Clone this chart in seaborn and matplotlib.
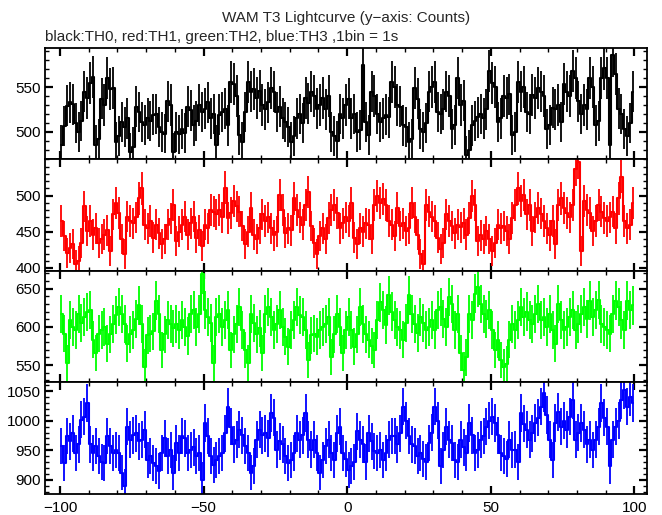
import numpy as np
import pandas as pd
import matplotlib
matplotlib.use("Agg")
import matplotlib.pyplot as plt
from matplotlib.ticker import MultipleLocator
import seaborn as sns

# ---------------- data (counts per 1 s bin, t = -100 ... 99) ----------------
time_start = -100
bin_width = 1

th0 = [
    485, 506, 529, 533, 531, 510, 500, 512, 545, 538,
    555, 561, 485, 492, 537, 530, 560, 548, 549, 489,
    495, 511, 505, 515, 477, 483, 528, 522, 511, 508,
    515, 512, 519, 520, 505, 500, 498, 534, 530, 477,
    500, 497, 503, 499, 528, 524, 507, 512, 530, 522,
    526, 533, 515, 520, 485, 519, 522, 526, 507, 556,
    553, 540, 496, 489, 522, 556, 545, 548, 538, 546,
    530, 525, 533, 549, 545, 522, 528, 515, 511, 505,
    489, 495, 515, 520, 510, 538, 532, 545, 540, 526,
    530, 538, 525, 540, 500, 495, 490, 520, 515, 530,
    537, 515, 520, 500, 502, 575, 511, 496, 545, 540,
    520, 511, 515, 519, 516, 556, 550, 530, 528, 507,
    505, 489, 492, 549, 537, 503, 500, 510, 545, 550,
    556, 522, 520, 525, 545, 540, 503, 508, 560, 530,
    535, 474, 480, 507, 512, 516, 520, 515, 525, 568,
    555, 550, 511, 515, 540, 538, 542, 496, 500, 556,
    545, 550, 522, 520, 541, 538, 549, 545, 540, 503,
    508, 527, 525, 530, 511, 553, 545, 540, 568, 560,
    534, 520, 530, 525, 560, 550, 507, 512, 560, 571,
    560, 485, 586, 565, 526, 520, 503, 495, 510, 545,
]

th1 = [
    465, 444, 421, 428, 433, 405, 410, 435, 485, 451,
    465, 446, 455, 435, 440, 446, 452, 424, 474, 490,
    476, 440, 419, 471, 465, 462, 470, 496, 510, 460,
    455, 465, 442, 460, 448, 433, 440, 460, 468, 487,
    437, 450, 460, 471, 446, 462, 471, 442, 452, 430,
    460, 455, 480, 478, 474, 480, 470, 511, 469, 476,
    492, 485, 478, 458, 433, 450, 483, 446, 440, 455,
    474, 465, 470, 455, 445, 450, 501, 480, 449, 455,
    452, 496, 480, 470, 460, 487, 505, 458, 435, 419,
    444, 455, 440, 469, 480, 487, 476, 455, 462, 470,
    465, 490, 442, 433, 455, 450, 462, 460, 440, 487,
    499, 490, 495, 487, 465, 460, 444, 483, 458, 462,
    451, 455, 490, 470, 446, 419, 405, 487, 478, 471,
    465, 442, 426, 435, 474, 465, 458, 448, 460, 456,
    462, 446, 469, 499, 487, 437, 445, 440, 451, 440,
    424, 435, 460, 455, 458, 451, 440, 469, 487, 510,
    492, 501, 474, 487, 451, 470, 483, 475, 465, 455,
    445, 465, 433, 487, 496, 483, 476, 470, 487, 537,
    546, 424, 492, 480, 476, 451, 465, 487, 478, 469,
    465, 470, 478, 455, 496, 526, 465, 455, 460, 490,
]

th2 = [
    617, 591, 553, 609, 600, 596, 617, 605, 613, 619,
    622, 583, 566, 591, 596, 600, 578, 590, 604, 615,
    626, 617, 604, 578, 590, 596, 610, 628, 604, 548,
    589, 591, 594, 634, 617, 570, 590, 609, 604, 598,
    604, 596, 609, 600, 588, 617, 622, 600, 617, 669,
    622, 613, 605, 553, 613, 617, 600, 609, 622, 570,
    590, 604, 626, 596, 570, 553, 617, 605, 590, 598,
    566, 617, 626, 613, 596, 604, 622, 600, 587, 574,
    596, 609, 626, 615, 613, 596, 557, 589, 591, 587,
    596, 600, 604, 613, 561, 590, 617, 600, 566, 596,
    613, 596, 574, 590, 626, 604, 590, 583, 575, 570,
    609, 632, 622, 602, 641, 620, 609, 600, 596, 583,
    605, 641, 617, 604, 592, 613, 605, 596, 600, 609,
    596, 622, 626, 610, 600, 639, 630, 596, 617, 566,
    544, 560, 617, 609, 643, 652, 630, 617, 610, 622,
    596, 570, 583, 557, 548, 552, 583, 604, 596, 609,
    626, 613, 620, 609, 604, 617, 630, 609, 613, 600,
    617, 596, 578, 630, 609, 596, 600, 613, 622, 596,
    604, 617, 626, 610, 634, 613, 622, 635, 604, 600,
    596, 591, 617, 634, 626, 609, 596, 634, 622, 628,
]

th3 = [
    957, 929, 974, 965, 979, 945, 960, 1002, 1007, 1030,
    960, 945, 957, 940, 930, 929, 974, 957, 945, 950,
    945, 912, 889, 990, 968, 975, 979, 965, 968, 985,
    934, 940, 928, 923, 915, 945, 970, 940, 950, 912,
    962, 945, 974, 970, 945, 950, 955, 940, 945, 900,
    996, 974, 940, 925, 934, 940, 945, 979, 1024, 990,
    960, 968, 985, 975, 957, 945, 912, 923, 968, 985,
    975, 979, 970, 1013, 1005, 951, 965, 960, 940, 929,
    934, 945, 979, 968, 975, 1013, 968, 951, 968, 945,
    912, 934, 957, 968, 945, 934, 979, 990, 945, 935,
    917, 923, 930, 982, 968, 960, 930, 979, 965, 949,
    945, 950, 934, 945, 968, 974, 974, 960, 979, 1024,
    1000, 974, 960, 957, 940, 945, 935, 930, 962, 980,
    1024, 1000, 923, 950, 990, 968, 962, 934, 930, 968,
    955, 945, 996, 975, 945, 950, 968, 974, 990, 1000,
    1007, 996, 975, 945, 940, 935, 968, 950, 951, 930,
    1013, 995, 985, 968, 979, 996, 1005, 1024, 1047, 1010,
    968, 934, 996, 1015, 990, 1000, 985, 1007, 1035, 968,
    980, 996, 985, 960, 968, 950, 968, 990, 1030, 1005,
    990, 923, 968, 990, 1000, 1035, 1052, 1024, 1041, 1030,
]

channels = ["TH0", "TH1", "TH2", "TH3"]
colors = ["#000000", "#ff0000", "#00ff00", "#0000ff"]
ylims = [(469, 594), (396, 550), (527.5, 673), (876, 1065)]
yticks = [[500, 550], [400, 450, 500], [550, 600, 650], [900, 950, 1000, 1050]]
xticks = [-100, -50, 0, 50, 100]
title = "WAM T3 Lightcurve (y\u2212axis: Counts)"
subtitle = "black:TH0, red:TH1, green:TH2, blue:TH3 ,1bin = 1s"

series = [th0, th1, th2, th3]
n = len(th0)
t = time_start + bin_width * (np.arange(n) + 0.5)
frames = []
for ch, vals in zip(channels, series):
    frames.append(pd.DataFrame({"time": t, "counts": np.asarray(vals, float),
                                "channel": ch}))
df = pd.concat(frames, ignore_index=True)
df["err"] = np.sqrt(df["counts"])

# ---------------- figure ----------------
sns.set_style("ticks")
plt.rcParams["font.family"] = ["Liberation Sans", "DejaVu Sans"]
plt.rcParams["axes.unicode_minus"] = True

fig, axes = plt.subplots(4, 1, figsize=(6.62, 5.15), dpi=100, sharex=True)
fig.subplots_adjust(left=0.068, right=0.977, top=0.907, bottom=0.041, hspace=0)

for ax, ch, col, yl, yt in zip(axes, channels, colors, ylims, yticks):
    d = df[df["channel"] == ch]
    ax.errorbar(d["time"], d["counts"], yerr=d["err"], fmt="none",
                ecolor=col, elinewidth=1.3, capsize=0, zorder=2)
    sns.lineplot(data=d, x="time", y="counts", color=col, linewidth=1.5,
                 drawstyle="steps-mid", ax=ax, legend=False, zorder=3,
                 estimator=None)
    ax.set_xlim(-105.2, 104.3)
    ax.set_ylim(*yl)
    ax.set_yticks(yt)
    ax.yaxis.set_minor_locator(MultipleLocator(10))
    ax.xaxis.set_minor_locator(MultipleLocator(10))
    ax.set_xticks(xticks)
    ax.set_xlabel("")
    ax.set_ylabel("")
    ax.tick_params(which="both", direction="in", top=True, right=True,
                   labelsize=11, colors="black", pad=3)
    ax.tick_params(which="major", length=6, width=1.6)
    ax.tick_params(which="minor", length=3, width=1.0)
    ax.tick_params(axis="x", which="major", pad=5)
    for s in ax.spines.values():
        s.set_linewidth(1.3)
        s.set_color("black")
        s.set_visible(True)

axes[-1].set_xticklabels([f"{v:d}".replace("-", "\u2212") for v in xticks])

fig.text(0.522, 0.965, title, ha="center", va="center", fontsize=11)
fig.text(0.068, 0.928, subtitle, ha="left", va="center", fontsize=11)

fig.savefig("out.png", dpi=100)
